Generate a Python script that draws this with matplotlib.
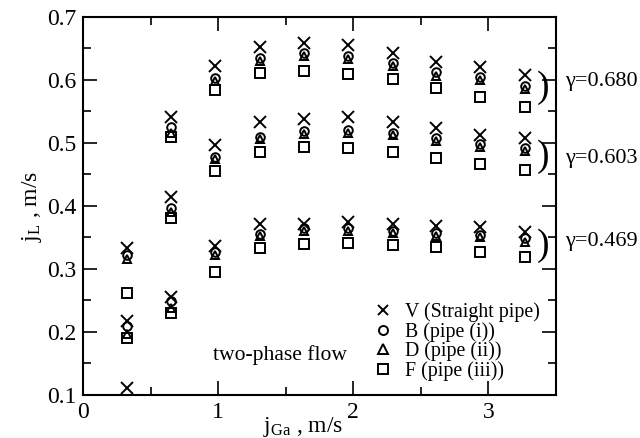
import numpy as np
import matplotlib
matplotlib.use("Agg")
import matplotlib.pyplot as plt
from matplotlib.ticker import MultipleLocator

plt.rcParams['font.family'] = ['Liberation Serif', 'DejaVu Serif']
plt.rcParams['mathtext.fontset'] = 'stix'

# superficial gas velocity j_Ga (m/s)
jGa = [0.327, 0.654, 0.98, 1.31, 1.635, 1.96, 2.29, 2.615, 2.94, 3.27]

# gamma = 0.680 group
V_680 = [0.333, 0.541, 0.622, 0.652, 0.658, 0.655, 0.643, 0.628, 0.620, 0.608]
B_680 = [0.322, 0.525, 0.603, 0.635, 0.643, 0.638, 0.627, 0.612, 0.605, 0.590]
D_680 = [0.316, 0.516, 0.598, 0.630, 0.638, 0.633, 0.622, 0.607, 0.600, 0.586]
F_680 = [0.262, 0.510, 0.584, 0.611, 0.614, 0.610, 0.601, 0.587, 0.573, 0.557]

# gamma = 0.603 group
V_603 = [0.217, 0.414, 0.497, 0.533, 0.538, 0.542, 0.533, 0.524, 0.513, 0.508]
B_603 = [0.210, 0.397, 0.478, 0.510, 0.519, 0.520, 0.516, 0.508, 0.498, 0.492]
D_603 = [0.197, 0.391, 0.474, 0.506, 0.515, 0.516, 0.512, 0.503, 0.494, 0.488]
F_603 = [0.190, 0.381, 0.456, 0.486, 0.494, 0.492, 0.486, 0.476, 0.467, 0.457]

# gamma = 0.469 group
V_469 = [0.111, 0.256, 0.337, 0.371, 0.372, 0.375, 0.372, 0.368, 0.366, 0.359]
B_469 = [np.nan, 0.249, 0.327, 0.356, 0.365, 0.365, 0.361, 0.357, 0.354, 0.349]
D_469 = [np.nan, 0.238, 0.322, 0.352, 0.361, 0.361, 0.357, 0.352, 0.350, 0.343]
F_469 = [np.nan, 0.230, 0.296, 0.333, 0.339, 0.341, 0.338, 0.335, 0.327, 0.319]

labels = ["V (Straight pipe)", "B (pipe (i))", "D (pipe (ii))", "F (pipe (iii))"]
gammas = ["\u03b3=0.680", "\u03b3=0.603", "\u03b3=0.469"]
gamma_y = [0.598, 0.476, 0.343]
bracket_y = [0.588, 0.478, 0.337]

fig = plt.figure(figsize=(6.4, 4.38), dpi=100)
ax = fig.add_axes([0.1297, 0.0982, 0.7391, 0.863])

styles = [
    dict(marker='x', ms=8, mew=1.4),
    dict(marker='o', ms=6.2, mew=1.4),
    dict(marker='^', ms=6.2, mew=1.4),
    dict(marker='s', ms=7, mew=1.4),
]
groups = [
    [V_680, B_680, D_680, F_680],
    [V_603, B_603, D_603, F_603],
    [V_469, B_469, D_469, F_469],
]
for gi, grp in enumerate(groups):
    for si, ys in enumerate(grp):
        st = styles[si]
        ax.plot(jGa, ys, linestyle='none', color='black', mfc='none',
                mec='black', label=labels[si] if gi == 0 else None, **st)

for gy, by, gl in zip(gamma_y, bracket_y, gammas):
    ax.text(3.40, by, ")", fontsize=27, ha='center', va='center')
    ax.text(3.57, gy, gl, fontsize=16, ha='left', va='center', clip_on=False)

ax.text(0.96, 0.163, "two-phase flow", fontsize=15.6, ha='left', va='center')

ax.set_xlim(0, 3.5)
ax.set_ylim(0.1, 0.7)
ax.xaxis.set_major_locator(MultipleLocator(1))
ax.xaxis.set_minor_locator(MultipleLocator(0.5))
ax.yaxis.set_major_locator(MultipleLocator(0.1))
ax.yaxis.set_minor_locator(MultipleLocator(0.05))
ax.set_xticks([0, 1, 2, 3])
ax.set_xticklabels(["0", "1", "2", "3"])
ax.set_yticks([0.1, 0.2, 0.3, 0.4, 0.5, 0.6, 0.7])
ax.set_yticklabels(["0.1", "0.2", "0.3", "0.4", "0.5", "0.6", "0.7"])
ax.tick_params(which='both', direction='in', top=True, right=True,
               labelsize=17, width=1.2)
ax.tick_params(which='major', length=10, pad=5)
ax.tick_params(which='minor', length=5.5)
for sp in ax.spines.values():
    sp.set_linewidth(1.5)

ax.set_xlabel(r"$\mathregular{j_{Ga}}$ , m/s", fontsize=17)
ax.xaxis.set_label_coords(0.465, -0.052)
ax.set_ylabel(r"$\mathregular{j_{L}}$ , m/s", fontsize=17, labelpad=2)

leg = ax.legend(loc='lower right', frameon=False, fontsize=14.3,
                handletextpad=0.5, labelspacing=0.0, borderaxespad=0.3,
                handlelength=1.2, bbox_to_anchor=(0.995, 0.0))
for h in leg.legend_handles:
    h.set_markersize(6.5)

fig.savefig("out.png", dpi=100)
